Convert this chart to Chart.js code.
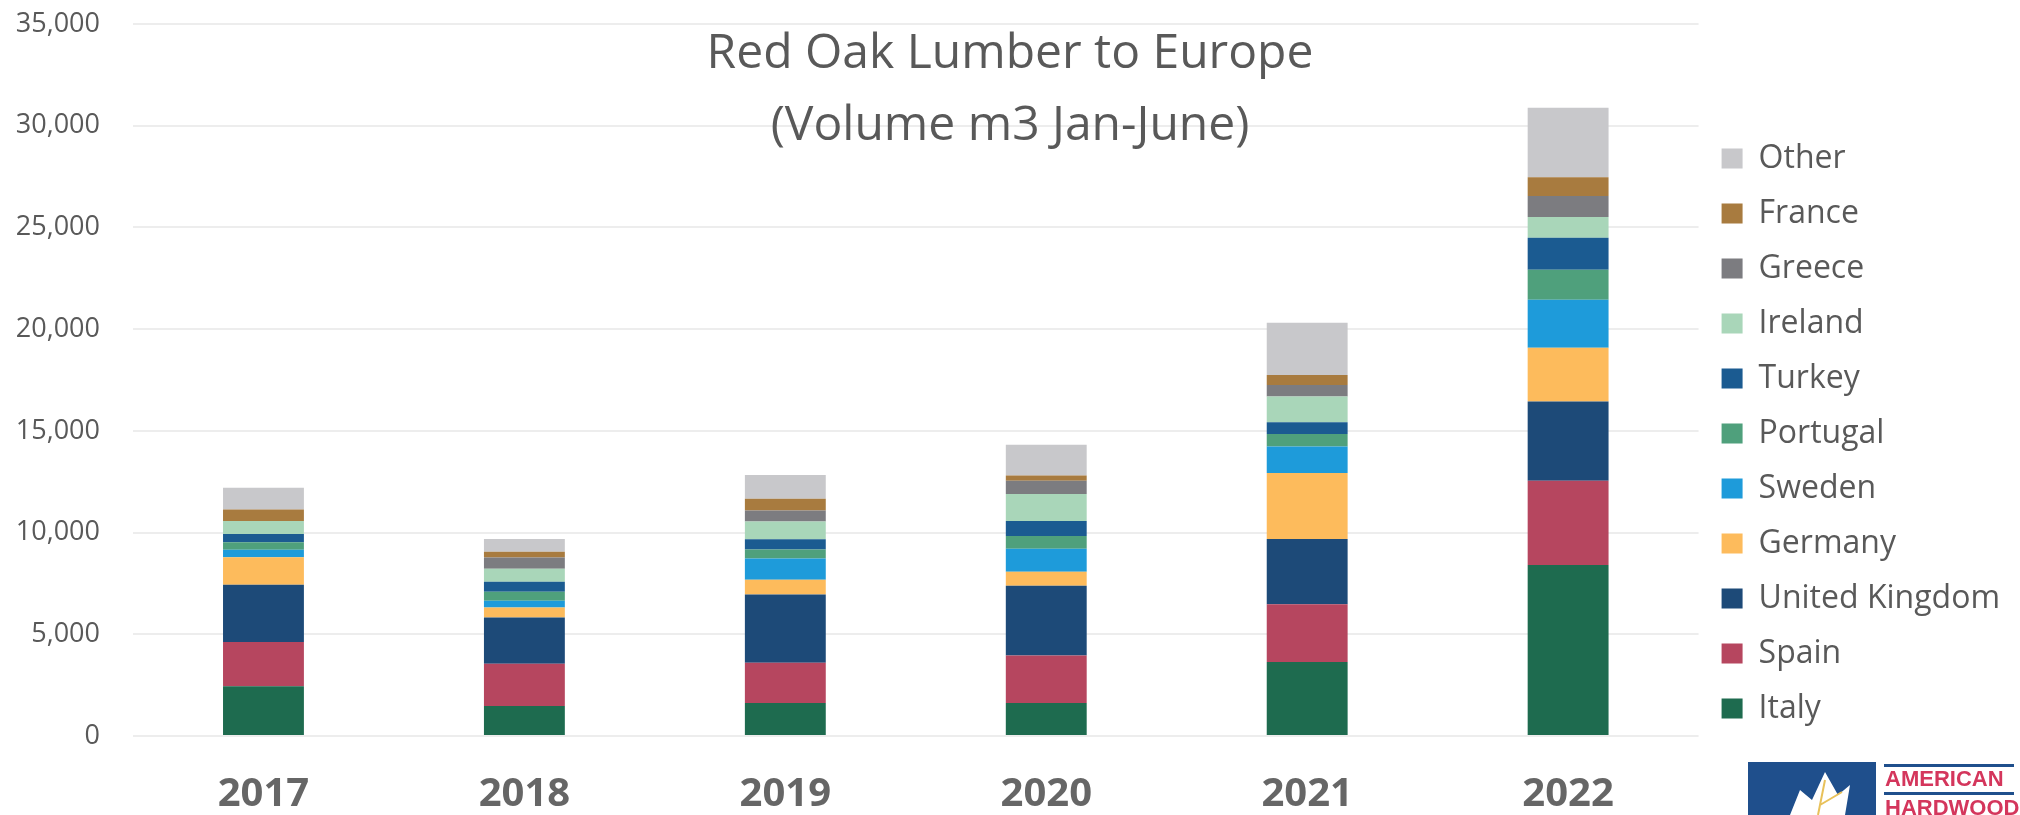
<!DOCTYPE html>
<html>
<head>
<meta charset="utf-8">
<script src="https://cdn.jsdelivr.net/npm/chart.js@4.4.1/dist/chart.umd.min.js"></script>
<style>
  html, body { margin: 0; padding: 0; background: #fff; }
</style>
</head>
<body>
<canvas id="red_oak" width="2020" height="815"></canvas>
<script>
// Red oak lumber exports to Europe, Jan-June volume (m3)
const years = ['2017', '2018', '2019', '2020', '2021', '2022'];

const italy    = [2450, 1480, 1620, 1620, 3640, 8400];
const spain    = [2170, 2070, 1980, 2340, 2840, 4150];
const uk       = [2820, 2280, 3350, 3430, 3200, 3890];
const germany  = [1350,  490,  730,  690, 3250, 2640];
const sweden   = [ 360,  330, 1040, 1120, 1300, 2360];
const portugal = [ 380,  440,  450,  630,  620, 1480];
const turkey   = [ 400,  490,  500,  740,  570, 1570];
const ireland  = [ 640,  640,  880, 1320, 1270, 1020];
const greece   = [   0,  560,  530,  660,  570, 1030];
const france   = [ 560,  280,  580,  250,  490,  930];
const other    = [1070,  620, 1170, 1520, 2560, 3410];

const titleLines = ['Red Oak Lumber to Europe', '(Volume m3 Jan-June)'];

function ds(label, data, color) {
  return { label: label, data: data, backgroundColor: color, borderWidth: 0 };
}

// big title sits over the plot, so it is drawn here and not by the title plugin
const overlay = {
  id: 'overlay',
  afterDraw(chart) {
    const ctx = chart.ctx;
    ctx.save();
    ctx.fillStyle = '#595959';
    ctx.font = '48px "Open Sans"';
    ctx.textAlign = 'center';
    ctx.textBaseline = 'middle';
    ctx.fillText(titleLines[0], chart.width / 2, 54);
    ctx.fillText(titleLines[1], chart.width / 2, 126);

    // AHEC logo corner
    ctx.fillStyle = '#1f4f8c';
    ctx.fillRect(1748, 762, 128, 60);
    ctx.fillStyle = '#ffffff';
    ctx.beginPath();
    ctx.moveTo(1790, 815); ctx.lineTo(1800, 790); ctx.lineTo(1812, 800);
    ctx.lineTo(1825, 772); ctx.lineTo(1838, 795); ctx.lineTo(1850, 785);
    ctx.lineTo(1845, 815); ctx.closePath(); ctx.fill();
    ctx.strokeStyle = '#e8c15a';
    ctx.lineWidth = 2;
    ctx.beginPath();
    ctx.moveTo(1818, 815); ctx.lineTo(1825, 780);
    ctx.moveTo(1820, 805); ctx.lineTo(1842, 792);
    ctx.stroke();
    ctx.fillStyle = '#1f4f8c';
    ctx.fillRect(1884, 764, 130, 3);
    ctx.fillRect(1884, 792, 130, 3);
    ctx.fillStyle = '#d4365c';
    ctx.font = 'bold 22px "Liberation Sans"';
    ctx.textAlign = 'left';
    ctx.fillText('AMERICAN', 1885, 780);
    ctx.fillText('HARDWOOD', 1885, 809);
    ctx.restore();
  }
};

new Chart('red_oak', {
  type: 'bar',
  data: {
    labels: years,
    datasets: [
      ds('Italy', italy, '#1e6b4f'),
      ds('Spain', spain, '#b6465f'),
      ds('United Kingdom', uk, '#1d4a78'),
      ds('Germany', germany, '#fdbb5c'),
      ds('Sweden', sweden, '#1e9bda'),
      ds('Portugal', portugal, '#4fa07c'),
      ds('Turkey', turkey, '#1b5b91'),
      ds('Ireland', ireland, '#a9d6b9'),
      ds('Greece', greece, '#7c7c80'),
      ds('France', france, '#a87b3f'),
      ds('Other', other, '#c8c8cb')
    ]
  },
  options: {
    responsive: false,
    animation: false,
    layout: { padding: { left: 0, right: 10, top: 0, bottom: 0 } },
    datasets: { bar: { categoryPercentage: 1, barPercentage: 0.31 } },
    scales: {
      x: {
        stacked: true,
        afterFit: s => { s.height = 79; },
        grid: { display: false, drawTicks: false },
        border: { display: false },
        ticks: {
          color: '#666666',
          padding: 35,
          font: { family: 'Open Sans', size: 40, weight: 'bold' }
        }
      },
      y: {
        stacked: true,
        min: 0,
        max: 35000,
        // fixed axis width, and keep the top of the plot near the canvas edge
        afterFit: s => { s.width = 133; s.paddingTop = 24; s.paddingBottom = 0; },
        grid: { color: '#ededed', lineWidth: 2, drawTicks: false },
        border: { display: false },
        ticks: {
          stepSize: 5000,
          color: '#595959',
          padding: 33,
          font: { family: 'Open Sans', size: 27 },
          callback: v => v.toLocaleString('en-US')
        }
      }
    },
    plugins: {
      title: { display: false },
      tooltip: { enabled: false },
      legend: {
        position: 'right',
        reverse: true,
        title: { display: true, text: '', font: { size: 10 }, padding: { top: 0, bottom: 40 } },
        labels: {
          color: '#595959',
          boxWidth: 21,
          boxHeight: 20,
          padding: 23,
          font: { family: 'Open Sans', size: 32 }
        }
      }
    }
  },
  plugins: [overlay]
});
</script>
</body>
</html>
